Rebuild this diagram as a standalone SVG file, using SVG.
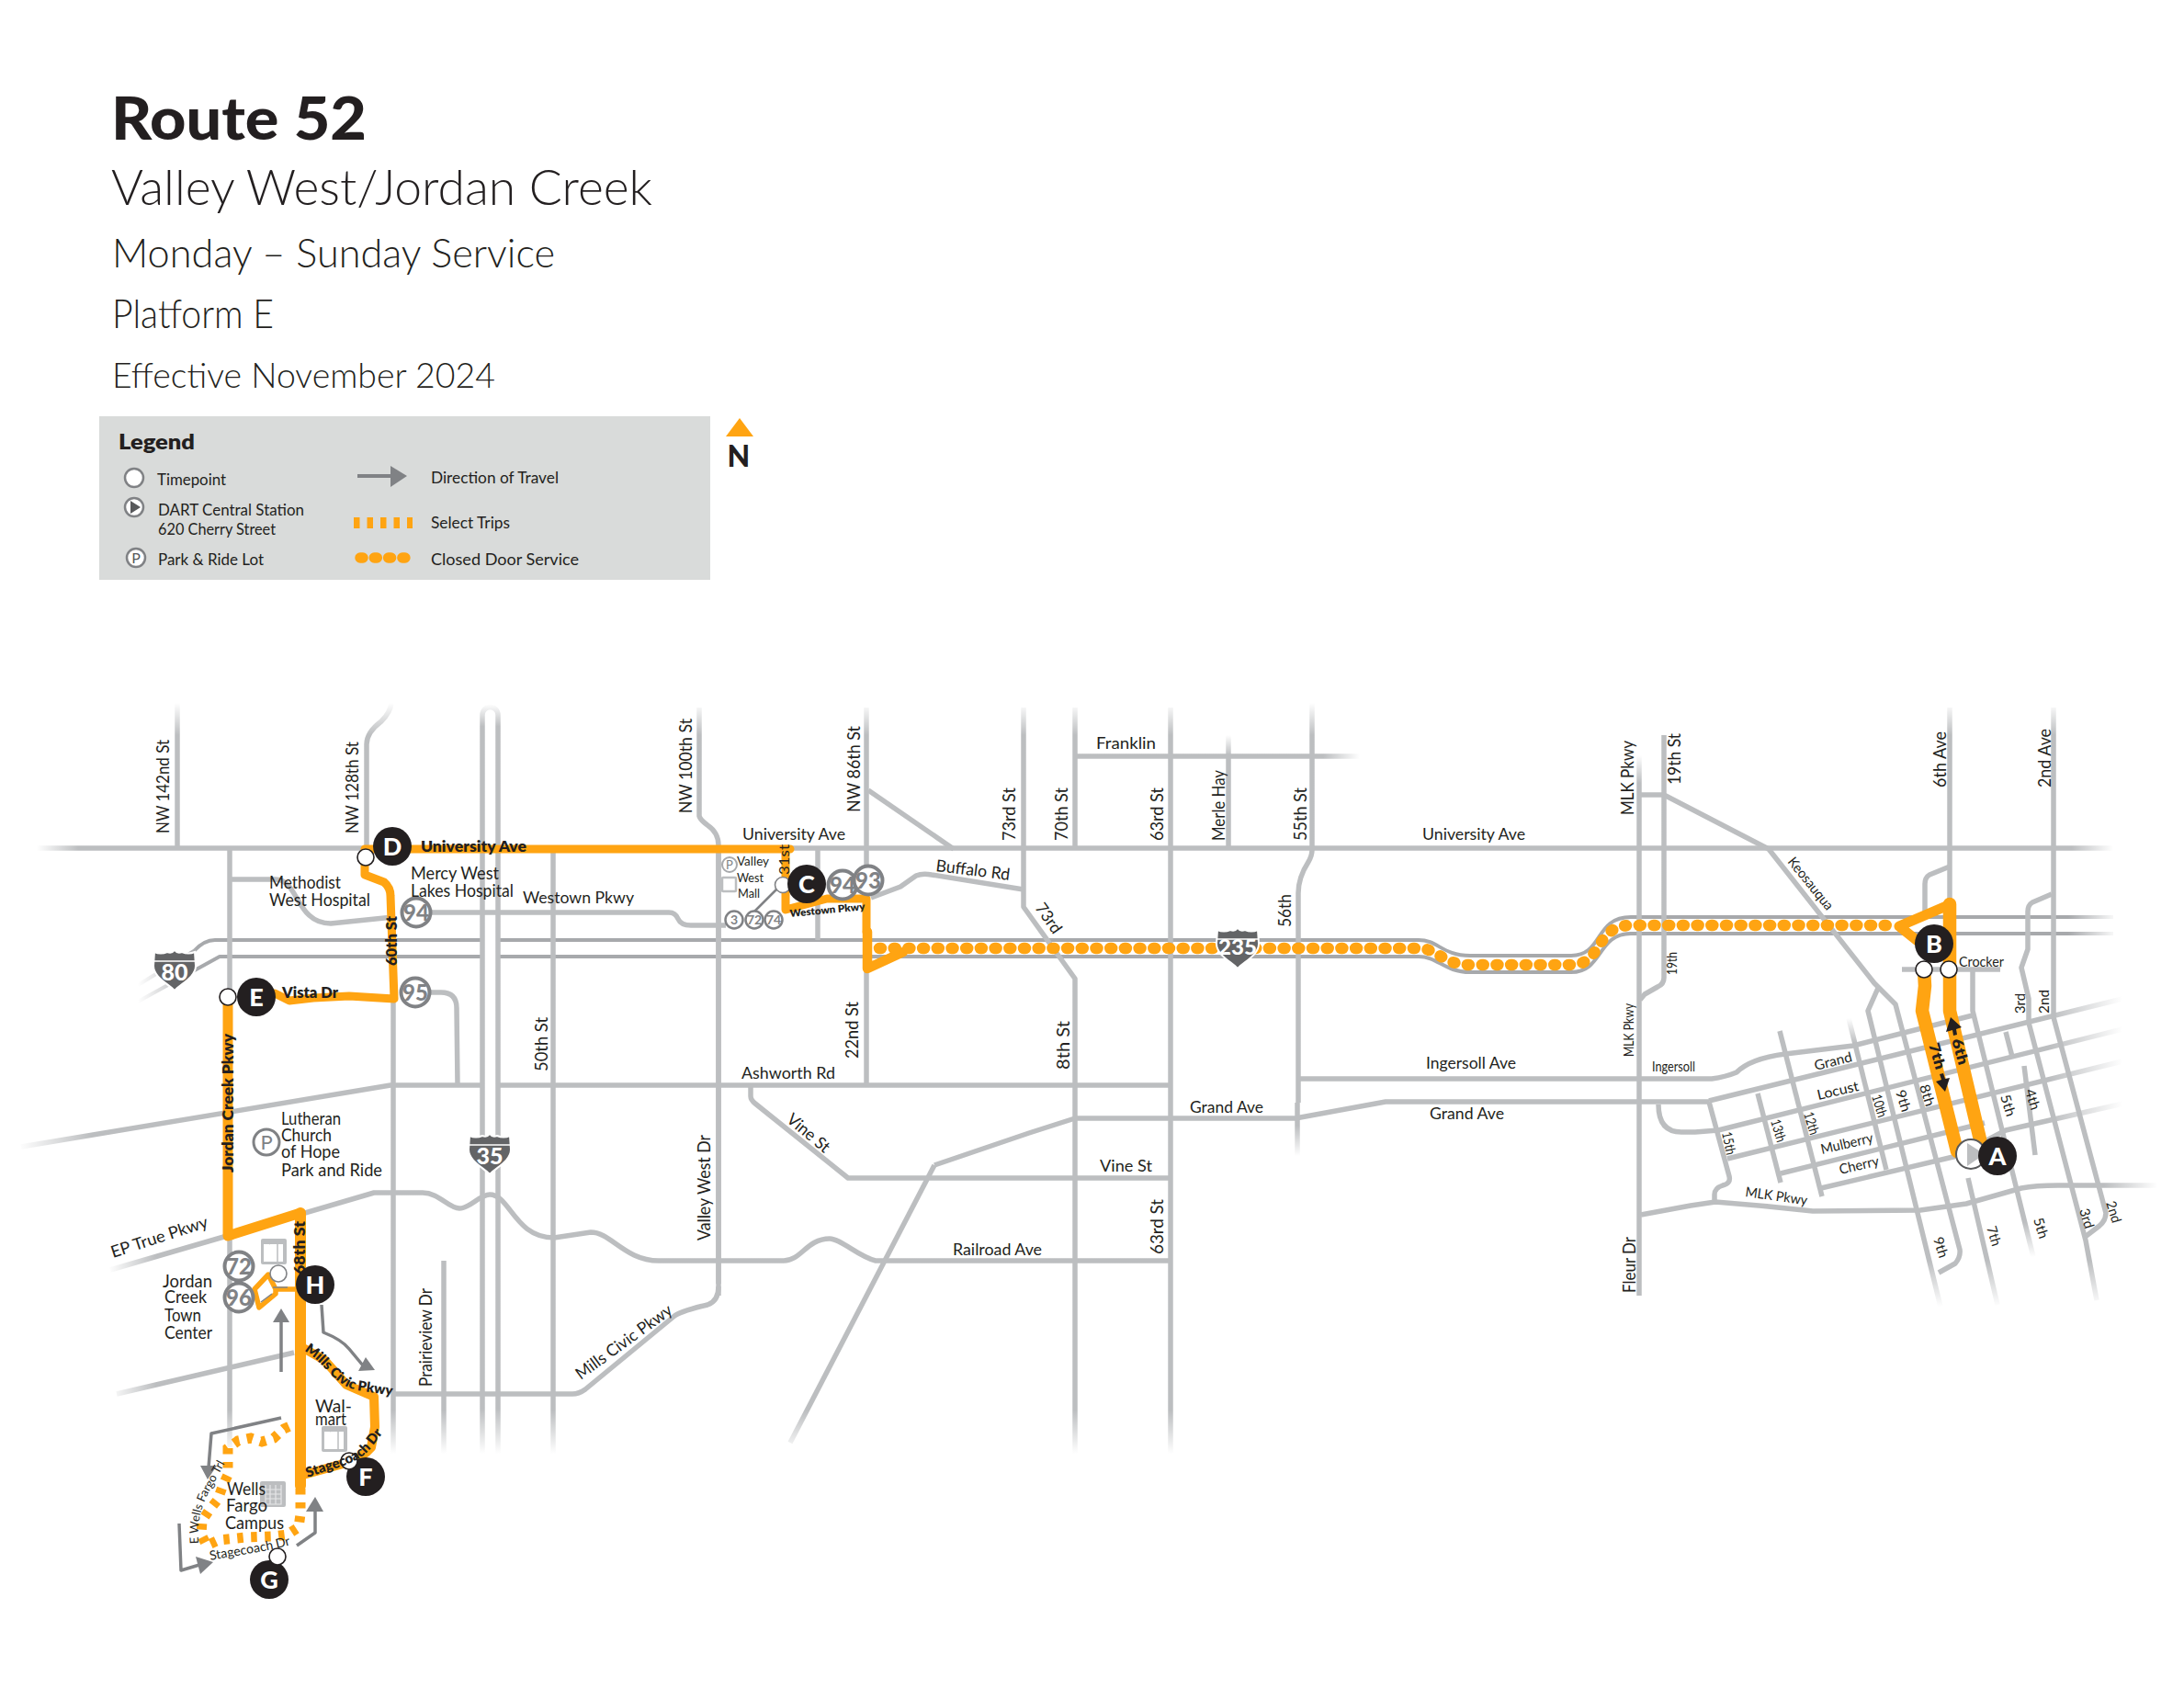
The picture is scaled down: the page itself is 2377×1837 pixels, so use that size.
<svg xmlns="http://www.w3.org/2000/svg" xmlns:xlink="http://www.w3.org/1999/xlink" width="2377" height="1837" viewBox="0 0 2377 1837">
<style>
text{font-family:"Lato","Noto Sans","Liberation Sans",sans-serif;fill:#231f20}
.t{font-size:20px}.s{font-size:15px}.m{font-size:18px}.b{font-size:16px;font-weight:800}.bs{font-size:14px;font-weight:800}
.rd{fill:none;stroke:#bcbec0;stroke-width:5.5;stroke-linecap:butt;stroke-linejoin:round}
.th{fill:none;stroke-width:4;stroke-linejoin:round}
.rt{fill:none;stroke:#ffa412;stroke-linejoin:round;stroke-linecap:round}
.dot{fill:none;stroke:#ffa412;stroke-width:12.5;stroke-linecap:round;stroke-dasharray:2 13.7}
.sel{fill:none;stroke:#ffa412;stroke-width:11;stroke-dasharray:6.5 8.5}
.arw{fill:none;stroke:#808285;stroke-width:3.5;stroke-linejoin:round}
.ah{fill:#808285}
.stop{fill:#231f20}.let{fill:#fff;font-size:27px;font-weight:900;text-anchor:middle}
.tp{fill:#fff;stroke:#231f20;stroke-width:1.6}
.sh{fill:#fff;stroke:#808285;stroke-width:4}
.shn{fill:#808285;font-size:24px;font-weight:900;text-anchor:middle}
.shs{fill:#fff;stroke:#808285;stroke-width:2.5}
.shsn{fill:#808285;font-size:14px;font-weight:700;text-anchor:middle}
.inum{fill:#fff;font-weight:900;text-anchor:middle}
</style>
<defs>
<linearGradient id="ux" gradientUnits="userSpaceOnUse" x1="40" x2="2300" y1="0" y2="0"><stop offset="0" stop-color="#bcbec0" stop-opacity="0"/><stop offset=".02" stop-color="#bcbec0"/><stop offset=".98" stop-color="#bcbec0"/><stop offset="1" stop-color="#bcbec0" stop-opacity="0"/></linearGradient>
<linearGradient id="ix" gradientUnits="userSpaceOnUse" x1="150" x2="2305" y1="0" y2="0"><stop offset="0" stop-color="#a7a9ac" stop-opacity="0"/><stop offset=".03" stop-color="#a7a9ac"/><stop offset=".975" stop-color="#a7a9ac"/><stop offset="1" stop-color="#a7a9ac" stop-opacity="0"/></linearGradient>
<linearGradient id="rx" gradientUnits="userSpaceOnUse" x1="2230" x2="2310" y1="0" y2="0"><stop offset="0" stop-color="#bcbec0"/><stop offset="1" stop-color="#bcbec0" stop-opacity="0"/></linearGradient>
<linearGradient id="mlkx" gradientUnits="userSpaceOnUse" x1="2290" x2="2348" y1="0" y2="0"><stop offset="0" stop-color="#bcbec0"/><stop offset="1" stop-color="#bcbec0" stop-opacity="0"/></linearGradient>
<linearGradient id="frx" gradientUnits="userSpaceOnUse" x1="1440" x2="1480" y1="0" y2="0"><stop offset="0" stop-color="#bcbec0"/><stop offset="1" stop-color="#bcbec0" stop-opacity="0"/></linearGradient>
<linearGradient id="lx" gradientUnits="userSpaceOnUse" x1="20" x2="100" y1="0" y2="0"><stop offset="0" stop-color="#bcbec0" stop-opacity="0"/><stop offset="1" stop-color="#bcbec0"/></linearGradient>
<linearGradient id="lx2" gradientUnits="userSpaceOnUse" x1="118" x2="170" y1="0" y2="0"><stop offset="0" stop-color="#bcbec0" stop-opacity="0"/><stop offset="1" stop-color="#bcbec0"/></linearGradient>
<linearGradient id="fr" gradientUnits="userSpaceOnUse" x1="0" x2="0" y1="822" y2="800"><stop offset="0" stop-color="#bcbec0"/><stop offset="1" stop-color="#bcbec0" stop-opacity="0"/></linearGradient>
<linearGradient id="ty" gradientUnits="userSpaceOnUse" x1="0" x2="0" y1="800" y2="765"><stop offset="0" stop-color="#bcbec0"/><stop offset="1" stop-color="#bcbec0" stop-opacity="0"/></linearGradient>
<linearGradient id="my" gradientUnits="userSpaceOnUse" x1="0" x2="0" y1="852" y2="822"><stop offset="0" stop-color="#bcbec0"/><stop offset="1" stop-color="#bcbec0" stop-opacity="0"/></linearGradient>
<linearGradient id="by" gradientUnits="userSpaceOnUse" x1="0" x2="0" y1="1535" y2="1582"><stop offset="0" stop-color="#bcbec0"/><stop offset="1" stop-color="#bcbec0" stop-opacity="0"/></linearGradient>
<linearGradient id="i35" gradientUnits="userSpaceOnUse" x1="0" x2="0" y1="766" y2="1582"><stop offset="0" stop-color="#bcbec0" stop-opacity="0"/><stop offset=".03" stop-color="#bcbec0"/><stop offset=".94" stop-color="#bcbec0"/><stop offset="1" stop-color="#bcbec0" stop-opacity="0"/></linearGradient>
<linearGradient id="dy" gradientUnits="userSpaceOnUse" x1="0" x2="0" y1="1372" y2="1422"><stop offset="0" stop-color="#bcbec0"/><stop offset="1" stop-color="#bcbec0" stop-opacity="0"/></linearGradient>
<linearGradient id="d5" gradientUnits="userSpaceOnUse" x1="0" x2="0" y1="1330" y2="1368"><stop offset="0" stop-color="#bcbec0"/><stop offset="1" stop-color="#bcbec0" stop-opacity="0"/></linearGradient>
<linearGradient id="y55" gradientUnits="userSpaceOnUse" x1="0" x2="0" y1="1225" y2="1258"><stop offset="0" stop-color="#bcbec0"/><stop offset="1" stop-color="#bcbec0" stop-opacity="0"/></linearGradient>
<linearGradient id="t10" gradientUnits="userSpaceOnUse" x1="0" x2="0" y1="1135" y2="1108"><stop offset="0" stop-color="#bcbec0"/><stop offset="1" stop-color="#bcbec0" stop-opacity="0"/></linearGradient>
<g id="shield"><path d="M-22,1 Q-15,4 -8,1 Q-3,3 0,-1 Q3,3 8,1 Q15,4 22,1 L23,16 C23,28 8,35 0,43 C-8,35 -23,28 -23,16 Z" fill="#636466" stroke="#fff" stroke-width="2"/><path d="M-22,11 H22" stroke="#fff" stroke-width="1.3"/></g>
<g id="bag"><rect x="-14" y="-14" width="28" height="28" rx="2" fill="#bcbec0"/><rect x="-11" y="-8" width="21" height="19" fill="#fff"/><path d="M-5,-8 Q0,-14 5,-8 M4,-8 V11" fill="none" stroke="#bcbec0" stroke-width="1.5"/></g>
<path id="pMills" d="M331,1470 C355,1484 360,1505 388,1513 L430,1519"/>
<path id="pStage" d="M335,1608 C360,1598 385,1596 402,1578 L424,1550"/>
<path id="pEWells" d="M216,1680 C214,1650 222,1632 232,1616 L248,1586"/>
<path id="pStage2" d="M229,1698 C260,1692 295,1688 320,1680"/>
</defs>
<g id="title">
<text x="121" y="152" font-size="64" font-weight="900" textLength="278" lengthAdjust="spacingAndGlyphs">Route 52</text>
<text x="121" y="223" font-size="54" font-weight="300" textLength="589" lengthAdjust="spacingAndGlyphs">Valley West/Jordan Creek</text>
<text x="122" y="291" font-size="44" font-weight="300" textLength="482" lengthAdjust="spacingAndGlyphs">Monday – Sunday Service</text>
<text x="122" y="357" font-size="44" font-weight="300" textLength="176" lengthAdjust="spacingAndGlyphs">Platform E</text>
<text x="122" y="422" font-size="38" font-weight="300" textLength="417" lengthAdjust="spacingAndGlyphs">Effective November 2024</text>
</g>
<g id="legend">
<rect x="108" y="453" width="665" height="178" fill="#d9dbda"/>
<text x="129" y="489" font-size="23" font-weight="800" textLength="83" lengthAdjust="spacingAndGlyphs">Legend</text>
<circle cx="146" cy="520" r="10" fill="#fff" stroke="#808285" stroke-width="2.5"/>
<circle cx="146" cy="552" r="10" fill="#fff" stroke="#808285" stroke-width="2.5"/><path d="M142,545 L153,552 L142,559Z" fill="#58595b"/>
<circle cx="148" cy="607" r="10" fill="#fff" stroke="#808285" stroke-width="2.5"/><text x="148" y="613" font-size="16" text-anchor="middle" style="fill:#58595b">P</text>
<g font-size="17">
<text x="171" y="528" textLength="75" lengthAdjust="spacingAndGlyphs">Timepoint</text>
<text x="172" y="561" textLength="159" lengthAdjust="spacingAndGlyphs">DART Central Station</text>
<text x="172" y="582" textLength="128" lengthAdjust="spacingAndGlyphs">620 Cherry Street</text>
<text x="172" y="615" textLength="115" lengthAdjust="spacingAndGlyphs">Park &amp; Ride Lot</text>
<text x="469" y="526" textLength="139" lengthAdjust="spacingAndGlyphs">Direction of Travel</text>
<text x="469" y="575" textLength="86" lengthAdjust="spacingAndGlyphs">Select Trips</text>
<text x="469" y="615" textLength="161" lengthAdjust="spacingAndGlyphs">Closed Door Service</text>
</g>
<path d="M389,518 H426" stroke="#808285" stroke-width="4"/><path d="M425,507 L443,518 L425,530Z" fill="#808285"/>
<path d="M385,569 H449" stroke="#ffa412" stroke-width="12" stroke-dasharray="6.5 8" fill="none"/>
<path d="M392,607 H444" stroke="#ffa412" stroke-width="11.5" stroke-linecap="round" stroke-dasharray="3 12.3" fill="none"/>
</g>
<g id="north"><path d="M805,455 L820,475 H790Z" fill="#ffa412"/><text x="804" y="508" font-size="32" font-weight="900" text-anchor="middle">N</text></g>

<g id="roads">
<path class="th" stroke="url(#ix)" d="M150,1072 L211,1035 Q222,1023 234,1023 H1544 C1565,1023 1570,1040 1600,1040 H1710 C1745,1040 1735,998 1775,998 H2300"/>
<path class="th" stroke="url(#ix)" d="M150,1090 L239,1041 H1544 C1565,1041 1572,1058 1600,1058 H1710 C1745,1058 1738,1016 1775,1016 H2300"/>
<path class="rd" style="stroke:url(#lx)" d="M23,1248 L425,1181 H1273"/>
<rect x="525" y="775" width="17" height="800" fill="#fff"/>
<path class="rd" style="stroke:url(#i35)" d="M525,1582 V778 A8.5,8.5 0 0 1 542,778 V1582"/>
<path class="rd" style="stroke:url(#ux)" d="M40,923 H2300"/>
<path class="rd" d="M250,957 H300 C325,957 322,1005 360,1005 L428,998 M470,993 H728 Q735,993 738,1000 Q741,1007 752,1007 H790"/>
<path class="rd" d="M948,977 L980,965 L997,953 Q1004,950 1014,952 L1114,968"/>
<path class="rd" style="stroke:url(#lx2)" d="M120,1382 L247,1345 L407,1298 H460 C478,1298 488,1315 500,1315 C512,1315 522,1300 533,1300 C555,1300 560,1347 603,1347 L643,1341 C665,1341 680,1372 717,1372 H853 C872,1372 878,1348 903,1348 C915,1348 935,1368 953,1372 H1274"/>
<path class="rd" style="stroke:url(#lx2)" d="M127,1517 L320,1472"/>
<path class="rd" d="M428,1517 H623 Q630,1517 637,1512 L733,1433 Q740,1427 770,1420 Q782,1416 782,1400"/>
<path class="rd" d="M817,1182 V1193 Q817,1197 822,1201 L923,1282 H1274"/>
<path class="rd" d="M1170,1217 H1410 L1508,1199 H1860"/>
<path class="rd" d="M1170,1217 L1120,1233 L1017,1268"/>
<path class="rd" style="stroke:url(#by)" d="M1017,1268 L860,1570"/>
<path class="rd" d="M1412,1174 H1863 Q1878,1172 1890,1167 Q1905,1152 1943,1147 L2017,1138 L2147,1105"/>
<path class="rd" style="stroke:url(#frx)" d="M1170,823 H1480"/>
<path class="rd" style="stroke:url(#rx)" d="M1860,1198 L2310,1087"/>
<path class="rd" style="stroke:url(#rx)" d="M1805,1202 Q1805,1232 1830,1232 H1845 L1870,1230 L2310,1120"/>
<path class="rd" style="stroke:url(#rx)" d="M1880,1261 L2310,1155"/>
<path class="rd" d="M1938,1277 L2160,1222"/>
<path class="rd" style="stroke:url(#rx)" d="M1982,1293 L2130,1258 L2183,1230 L2315,1200"/>
<path class="rd" style="stroke:url(#mlkx)" d="M1786,1322 L1840,1312 L1867,1308 Q1920,1312 1973,1318 L2090,1317 L2140,1310 L2200,1293 Q2215,1290 2240,1290 H2348"/>
<path class="rd" d="M2070,1055 H2177"/>
<path class="rd" style="stroke:url(#ty)" d="M193,765 V923"/>
<path class="rd" d="M250,923 V1335"/>
<path class="rd" style="stroke:url(#by)" d="M250,1345 V1575"/>
<path class="rd" style="stroke:url(#ty)" d="M426,765 Q425,775 415,785 Q399,797 399,810 V923"/>
<path class="rd" style="stroke:url(#by)" d="M428,1000 V1582"/>
<path class="rd" d="M454,1080 H480 Q497,1080 497,1097 L498,1181"/>
<path class="rd" style="stroke:url(#by)" d="M602,923 V1582"/>
<path class="rd" style="stroke:url(#by)" d="M483,1372 V1582"/>
<path class="rd" style="stroke:url(#ty)" d="M761,770 V888 Q762,892 770,898 Q782,906 782,920 V1397"/>
<path class="rd" d="M782,923 V1410"/>
<path class="rd" d="M890,923 V1023"/>
<path class="rd" style="stroke:url(#ty)" d="M943,770 V977"/>
<path class="rd" d="M943,1050 V1181"/>
<path class="rd" d="M945,860 L1038,924"/>
<path class="rd" style="stroke:url(#ty)" d="M1114,770 V987 L1170,1065 V1217"/>
<path class="rd" style="stroke:url(#by)" d="M1170,1217 V1582"/>
<path class="rd" style="stroke:url(#ty)" d="M1170,770 V923"/>
<path class="rd" style="stroke:url(#ty)" d="M1274,770 V1217"/>
<path class="rd" style="stroke:url(#by)" d="M1274,1217 V1582"/>
<path class="rd" style="stroke:url(#fr)" d="M1337,800 V823"/><path class="rd" d="M1337,823 V923"/>
<path class="rd" style="stroke:url(#ty)" d="M1428,765 V925 Q1428,931 1424,938 Q1413,955 1413,972 V1200"/>
<path class="rd" style="stroke:url(#y55)" d="M1412,1200 V1258"/>
<path class="rd" style="stroke:url(#my)" d="M1784,822 V1410"/>
<path class="rd" style="stroke:url(#ty)" d="M1811,800 V1064 Q1811,1071 1804,1074 L1790,1082 L1785,1088"/>
<path class="rd" d="M1784,865 H1811 L1925,924 L2040,1070 L2063,1093 L2133,1360 Q2134,1368 2128,1375 L2110,1385"/>
<path class="rd" style="stroke:url(#ty)" d="M2122,770 V1000"/>
<path class="rd" d="M2122,943 L2100,952 Q2095,955 2095,962 V1000"/>
<path class="rd" style="stroke:url(#ty)" d="M2235,770 V1107 L2292,1320 Q2292,1328 2285,1334 L2268,1347"/>
<path class="rd" d="M2233,973 L2212,982 Q2207,985 2207,992 V1033 L2200,1053 L2208,1087 V1113"/>
<path class="rd" style="stroke:url(#dy)" d="M2208,1113 L2270,1350 L2282,1415"/>
<path class="rd" style="stroke:url(#d5)" d="M2147,1057 V1100 L2213,1368"/>
<path class="rd" style="stroke:url(#dy)" d="M2142,1282 L2174,1420"/>
<path class="rd" style="stroke:url(#dy)" d="M2045,1073 L2033,1100 L2112,1422"/>
<path class="rd" style="stroke:url(#t10)" d="M2012,1108 L2053,1273"/>
<path class="rd" d="M1937,1122 L1983,1302"/>
<path class="rd" d="M1913,1190 L1938,1287"/>
<path class="rd" d="M1860,1199 L1882,1280 Q1884,1288 1875,1290 Q1866,1293 1866,1300 V1308"/>
<path class="rd" d="M2183,1123 L2190,1150"/>
<path class="rd" d="M2203,1160 L2215,1257"/>
</g>

<g id="shields">
<use xlink:href="#shield" href="#shield" x="190" y="1035"/><text class="inum" x="190" y="1067" font-size="25">80</text>
<use xlink:href="#shield" href="#shield" x="533" y="1235"/><text class="inum" x="533" y="1267" font-size="25">35</text>
</g>

<g id="route">
<path class="rt" stroke-width="9" d="M860,924 H397 V952 L418,960 Q425,966 425,975 L429,1087 L380,1084 L341,1086 L315,1089 L299,1081"/>
<path class="rt" stroke-width="9" d="M855,924 V990 L900,978 H943 V1014"/>
<path class="rt" stroke-width="10.5" d="M944,1014 V1054 L983,1036"/>
<path class="rt" stroke-width="11" d="M248,1085 V1345 L327,1320"/>
<path class="rt" stroke-width="12" d="M327,1320 V1617"/>
<path class="rt" stroke-width="10" d="M330,1605 L377,1592 Q395,1586 404,1575 L408,1553 L407,1520 L377,1507 L353,1480 L330,1467"/>
<path class="rt" stroke-width="5.5" d="M327,1403 H300 M300,1403 L292,1387 L277,1403 L282,1423 L300,1408 V1403"/>
<path fill="none" stroke="#808285" stroke-width="1.5" d="M297,1401 H313 M284,1417 L296,1408"/>
<path class="sel" d="M327,1620 L327,1648 L325,1662 L313,1670 L297,1672 L268,1673 L238,1676 L225,1682 L219,1670 L220,1655 L228,1643 L237,1632 L242,1618 L248,1605 L248,1576 L259,1568 L273,1565 L285,1569 L298,1565 L309,1555 L320,1550"/>
<path class="dot" d="M957,1032 H1544 C1565,1032 1570,1050 1600,1050 H1710 C1745,1050 1735,1007 1775,1007 H2058"/>
<path class="rt" stroke-width="11" d="M2123,984 L2067,1008 L2092,1028"/>
<path class="rt" stroke-width="14.5" d="M2122,984 V1100 L2155,1240"/>
<path class="rt" stroke-width="14.5" d="M2130,1253 L2092,1100 L2095,1073 L2094,1055"/>
</g>

<use xlink:href="#shield" href="#shield" x="1347" y="1011"/><text class="inum" x="1347" y="1039" font-size="22" textLength="42" lengthAdjust="spacingAndGlyphs">235</text>

<g id="arrows">
<path class="arw" d="M306,1493 V1437"/><path class="ah" d="M306,1424 L315,1439 H297Z"/>
<path class="arw" d="M350,1420 L352,1450 Q372,1458 380,1468 L395,1486"/><path class="ah" d="M408,1491 L390,1492 L398,1477Z"/>
<path class="arw" d="M306,1543 L230,1560 L227,1597"/><path class="ah" d="M218,1595 H236 L226,1610Z"/>
<path class="arw" d="M195,1658 L197,1709 L217,1703"/><path class="ah" d="M213,1694 L232,1700 L218,1713Z"/>
<path class="arw" d="M323,1682 L343,1668 V1643"/><path class="ah" d="M333,1645 H352 L343,1629Z"/>
<path fill="#231f20" d="M2123,1107 L2135,1118 L2129,1120 L2130,1126 L2126,1127 L2125,1121 L2118,1123Z"/>
<path fill="#231f20" d="M2117,1188 L2107,1177 L2113,1175 L2111,1169 L2115,1168 L2117,1174 L2122,1173Z"/>
</g>

<g id="places">
<use xlink:href="#bag" href="#bag" x="298" y="1362"/>
<use xlink:href="#bag" href="#bag" x="364" y="1566"/>
<g transform="translate(297,1626)"><rect x="-14" y="-14" width="28" height="28" rx="2" fill="#bcbec0"/><path d="M-8,-10 V11 H9 V-10 M-8,-5 H9 M-8,0 H9 M-8,5 H9 M-3,-10 V11 M3,-10 V11" fill="none" stroke="#e6e7e8" stroke-width="1.2"/></g>
<g transform="translate(794,963)"><rect x="-8" y="-8" width="15" height="15" fill="#fff" stroke="#bcbec0" stroke-width="2.5" rx="1"/></g>
<circle cx="290" cy="1243" r="14" fill="#fff" stroke="#808285" stroke-width="3"/><text x="290" y="1251" font-size="22" text-anchor="middle" style="fill:#808285">P</text>
<circle cx="794" cy="941" r="8" fill="#fff" stroke="#a7a9ac" stroke-width="2"/><text x="794" y="946" font-size="13" text-anchor="middle" style="fill:#808285">P</text>
<circle class="tp" cx="303" cy="1386" r="9" style="stroke:#808285"/>
<path d="M845,968 L820,993" stroke="#808285" stroke-width="2.5"/>
</g>

<g id="route-numbers">
<circle class="sh" cx="453" cy="993" r="15.5"/><text class="shn" x="453" y="1002">94</text>
<circle class="sh" cx="452" cy="1080" r="15.5"/><text class="shn" x="452" y="1089">95</text>
<circle class="sh" cx="260" cy="1378" r="15.5"/><text class="shn" x="260" y="1387">72</text>
<circle class="sh" cx="260" cy="1412" r="15.5"/><text class="shn" x="260" y="1421">96</text>
<circle class="sh" cx="917" cy="963" r="15.5"/><text class="shn" x="917" y="972">94</text>
<circle class="sh" cx="945" cy="958" r="15.5"/><text class="shn" x="945" y="967">93</text>
<circle class="shs" cx="799" cy="1001" r="9.5"/><text class="shsn" x="799" y="1006">3</text>
<circle class="shs" cx="821" cy="1001" r="9.5"/><text class="shsn" x="821" y="1006">72</text>
<circle class="shs" cx="842" cy="1001" r="9.5"/><text class="shsn" x="842" y="1006">74</text>
</g>

<g id="stop-A"><circle cx="2145" cy="1256" r="16" fill="#fff" stroke="#58595b" stroke-width="2"/><path d="M2141,1244 L2160,1256 L2141,1269Z" fill="#bcbec0"/><circle class="stop" cx="2174" cy="1258" r="21"/><text class="let" x="2174" y="1268">A</text></g>
<g id="stop-B"><circle class="stop" cx="2105" cy="1027" r="21"/><text class="let" x="2105" y="1037">B</text><circle class="tp" cx="2094" cy="1055" r="9"/><circle class="tp" cx="2121" cy="1055" r="9"/></g>
<g id="stop-C"><circle class="tp" cx="852" cy="963" r="8.5" style="stroke:#808285"/><circle class="stop" cx="878" cy="962" r="21"/><text class="let" x="878" y="972">C</text></g>
<g id="stop-D"><circle class="stop" cx="427" cy="921" r="21"/><text class="let" x="427" y="931">D</text><circle class="tp" cx="398" cy="933" r="9"/></g>
<g id="stop-E"><circle class="stop" cx="279" cy="1085" r="21"/><text class="let" x="279" y="1095">E</text><circle class="tp" cx="248" cy="1085" r="9"/></g>
<g id="stop-F"><circle class="stop" cx="398" cy="1607" r="21"/><text class="let" x="398" y="1617">F</text><circle class="tp" cx="380" cy="1590" r="9"/></g>
<g id="stop-G"><circle class="stop" cx="293" cy="1719" r="21"/><text class="let" x="293" y="1729">G</text><circle class="tp" cx="302" cy="1694" r="9"/></g>

<g id="labels">
<text class="t" transform="translate(184,907) rotate(-90)" textLength="102" lengthAdjust="spacingAndGlyphs">NW 142nd St</text>
<text class="t" transform="translate(390,907) rotate(-90)" textLength="100" lengthAdjust="spacingAndGlyphs">NW 128th St</text>
<text class="t" transform="translate(753,885) rotate(-90)" textLength="103" lengthAdjust="spacingAndGlyphs">NW 100th St</text>
<text class="t" transform="translate(936,884) rotate(-90)" textLength="94" lengthAdjust="spacingAndGlyphs">NW 86th St</text>
<text class="t" transform="translate(1105,915) rotate(-90)" textLength="58" lengthAdjust="spacingAndGlyphs">73rd St</text>
<text class="t" transform="translate(1162,915) rotate(-90)" textLength="58" lengthAdjust="spacingAndGlyphs">70th St</text>
<text class="t" transform="translate(1266,915) rotate(-90)" textLength="58" lengthAdjust="spacingAndGlyphs">63rd St</text>
<text class="t" transform="translate(1333,915) rotate(-90)" textLength="77" lengthAdjust="spacingAndGlyphs">Merle Hay</text>
<text class="t" transform="translate(1422,915) rotate(-90)" textLength="58" lengthAdjust="spacingAndGlyphs">55th St</text>
<text class="t" transform="translate(1405,1009) rotate(-90)" textLength="36" lengthAdjust="spacingAndGlyphs">56th</text>
<text class="t" transform="translate(1778,887) rotate(-90)" textLength="81" lengthAdjust="spacingAndGlyphs">MLK Pkwy</text>
<text class="t" transform="translate(1829,854) rotate(-90)" textLength="56" lengthAdjust="spacingAndGlyphs">19th St</text>
<text class="t" transform="translate(2118,857) rotate(-90)" textLength="61" lengthAdjust="spacingAndGlyphs">6th Ave</text>
<text class="t" transform="translate(2232,857) rotate(-90)" textLength="64" lengthAdjust="spacingAndGlyphs">2nd Ave</text>
<text class="t" transform="translate(596,1166) rotate(-90)" textLength="59" lengthAdjust="spacingAndGlyphs">50th St</text>
<text class="t" transform="translate(934,1152) rotate(-90)" textLength="62" lengthAdjust="spacingAndGlyphs">22nd St</text>
<text class="t" transform="translate(1164,1164) rotate(-90)" textLength="53" lengthAdjust="spacingAndGlyphs">8th St</text>
<text class="t" transform="translate(773,1350) rotate(-90)" textLength="115" lengthAdjust="spacingAndGlyphs">Valley West Dr</text>
<text class="t" transform="translate(1266,1365) rotate(-90)" textLength="60" lengthAdjust="spacingAndGlyphs">63rd St</text>
<text class="t" transform="translate(470,1509) rotate(-90)" textLength="107" lengthAdjust="spacingAndGlyphs">Prairieview Dr</text>
<text class="t" transform="translate(1780,1407) rotate(-90)" textLength="61" lengthAdjust="spacingAndGlyphs">Fleur Dr</text>
<text class="m" x="808" y="914" textLength="112" lengthAdjust="spacingAndGlyphs">University Ave</text>
<text class="m" x="1548" y="914" textLength="112" lengthAdjust="spacingAndGlyphs">University Ave</text>
<text class="m" x="569" y="983" textLength="121" lengthAdjust="spacingAndGlyphs">Westown Pkwy</text>
<text class="m" x="1193" y="815" textLength="65" lengthAdjust="spacingAndGlyphs">Franklin</text>
<text class="m" x="1552" y="1163" textLength="98" lengthAdjust="spacingAndGlyphs">Ingersoll Ave</text>
<text class="m" x="1295" y="1211" textLength="80" lengthAdjust="spacingAndGlyphs">Grand Ave</text>
<text class="m" x="1556" y="1218" textLength="81" lengthAdjust="spacingAndGlyphs">Grand Ave</text>
<text class="m" x="807" y="1174" textLength="102" lengthAdjust="spacingAndGlyphs">Ashworth Rd</text>
<text class="m" x="1197" y="1275" textLength="57" lengthAdjust="spacingAndGlyphs">Vine St</text>
<text class="m" x="1037" y="1366" textLength="97" lengthAdjust="spacingAndGlyphs">Railroad Ave</text>
<text class="m" transform="translate(1018,948) rotate(7)" textLength="81" lengthAdjust="spacingAndGlyphs">Buffalo Rd</text>
<text class="m" transform="translate(1126,988) rotate(55)" textLength="36" lengthAdjust="spacingAndGlyphs">73rd</text>
<text class="m" transform="translate(855,1220) rotate(40)" textLength="55" lengthAdjust="spacingAndGlyphs">Vine St</text>
<text class="m" transform="translate(632,1502) rotate(-36)" textLength="125" lengthAdjust="spacingAndGlyphs">Mills Civic Pkwy</text>
<text class="m" transform="translate(123,1369) rotate(-18)" textLength="110" lengthAdjust="spacingAndGlyphs">EP True Pkwy</text>
<g font-size="19">
<text x="293" y="967" textLength="78" lengthAdjust="spacingAndGlyphs">Methodist</text>
<text x="293" y="986" textLength="110" lengthAdjust="spacingAndGlyphs">West Hospital</text>
<text x="447" y="957" textLength="96" lengthAdjust="spacingAndGlyphs">Mercy West</text>
<text x="447" y="976" textLength="112" lengthAdjust="spacingAndGlyphs">Lakes Hospital</text>
<text x="306" y="1224" textLength="65" lengthAdjust="spacingAndGlyphs">Lutheran</text>
<text x="306" y="1242" textLength="55" lengthAdjust="spacingAndGlyphs">Church</text>
<text x="306" y="1260" textLength="64" lengthAdjust="spacingAndGlyphs">of Hope</text>
<text x="306" y="1280" textLength="110" lengthAdjust="spacingAndGlyphs">Park and Ride</text>
<text x="177" y="1401" textLength="54" lengthAdjust="spacingAndGlyphs">Jordan</text>
<text x="179" y="1418" textLength="46" lengthAdjust="spacingAndGlyphs">Creek</text>
<text x="179" y="1438" textLength="40" lengthAdjust="spacingAndGlyphs">Town</text>
<text x="179" y="1457" textLength="52" lengthAdjust="spacingAndGlyphs">Center</text>
<text x="343" y="1537" textLength="40" lengthAdjust="spacingAndGlyphs">Wal-</text>
<text x="343" y="1551" textLength="34" lengthAdjust="spacingAndGlyphs">mart</text>
<text x="247" y="1627" textLength="42" lengthAdjust="spacingAndGlyphs">Wells</text>
<text x="246" y="1645" textLength="45" lengthAdjust="spacingAndGlyphs">Fargo</text>
<text x="245" y="1664" textLength="64" lengthAdjust="spacingAndGlyphs">Campus</text>
</g>
<g font-size="14">
<text x="802" y="942" textLength="35" lengthAdjust="spacingAndGlyphs">Valley</text>
<text x="802" y="960" textLength="29" lengthAdjust="spacingAndGlyphs">West</text>
<text x="803" y="977" textLength="24" lengthAdjust="spacingAndGlyphs">Mall</text>
</g>
<text class="s" x="2132" y="1052" textLength="49" lengthAdjust="spacingAndGlyphs">Crocker</text>
<text class="s" x="1798" y="1166" textLength="47" lengthAdjust="spacingAndGlyphs">Ingersoll</text>
<text class="s" transform="translate(1825,1061) rotate(-90)" textLength="25" lengthAdjust="spacingAndGlyphs">19th</text>
<text class="s" transform="translate(1778,1150) rotate(-90)" textLength="58" lengthAdjust="spacingAndGlyphs">MLK Pkwy</text>
<text class="s" transform="translate(2204,1103) rotate(-90)" textLength="22" lengthAdjust="spacingAndGlyphs">3rd</text>
<text class="s" transform="translate(2230,1103) rotate(-90)" textLength="26" lengthAdjust="spacingAndGlyphs">2nd</text>
<text class="s" transform="translate(1945,938) rotate(51)" textLength="69" lengthAdjust="spacingAndGlyphs">Keosauqua</text>
<text class="s" transform="translate(1976,1165) rotate(-14)" textLength="42" lengthAdjust="spacingAndGlyphs">Grand</text>
<text class="s" transform="translate(1979,1197) rotate(-13)" textLength="46" lengthAdjust="spacingAndGlyphs">Locust</text>
<text class="s" transform="translate(1983,1256) rotate(-13)" textLength="58" lengthAdjust="spacingAndGlyphs">Mulberry</text>
<text class="s" transform="translate(2003,1278) rotate(-13)" textLength="44" lengthAdjust="spacingAndGlyphs">Cherry</text>
<text class="s" transform="translate(1899,1302) rotate(8)" textLength="68" lengthAdjust="spacingAndGlyphs">MLK Pkwy</text>
<text class="s" transform="translate(2089,1182) rotate(73)" textLength="24" lengthAdjust="spacingAndGlyphs">8th</text>
<text class="s" transform="translate(2063,1188) rotate(73)" textLength="24" lengthAdjust="spacingAndGlyphs">9th</text>
<text class="s" transform="translate(2037,1193) rotate(73)" textLength="25" lengthAdjust="spacingAndGlyphs">10th</text>
<text class="s" transform="translate(1963,1212) rotate(73)" textLength="25" lengthAdjust="spacingAndGlyphs">12th</text>
<text class="s" transform="translate(1927,1220) rotate(73)" textLength="25" lengthAdjust="spacingAndGlyphs">13th</text>
<text class="s" transform="translate(1874,1233) rotate(78)" textLength="25" lengthAdjust="spacingAndGlyphs">15th</text>
<text class="s" transform="translate(2177,1193) rotate(73)" textLength="24" lengthAdjust="spacingAndGlyphs">5th</text>
<text class="s" transform="translate(2204,1187) rotate(73)" textLength="23" lengthAdjust="spacingAndGlyphs">4th</text>
<text class="s" transform="translate(2104,1348) rotate(73)" textLength="23" lengthAdjust="spacingAndGlyphs">9th</text>
<text class="s" transform="translate(2162,1336) rotate(73)" textLength="22" lengthAdjust="spacingAndGlyphs">7th</text>
<text class="s" transform="translate(2213,1327) rotate(73)" textLength="23" lengthAdjust="spacingAndGlyphs">5th</text>
<text class="s" transform="translate(2263,1317) rotate(73)" textLength="22" lengthAdjust="spacingAndGlyphs">3rd</text>
<text class="s" transform="translate(2292,1309) rotate(73)" textLength="24" lengthAdjust="spacingAndGlyphs">2nd</text>
<text class="b" x="458" y="927" textLength="115" lengthAdjust="spacingAndGlyphs">University Ave</text>
<text class="b" x="307" y="1086" textLength="61" lengthAdjust="spacingAndGlyphs">Vista Dr</text>
<text class="b" transform="translate(432,1051) rotate(-90)" textLength="54" lengthAdjust="spacingAndGlyphs">60th St</text>
<text class="b" transform="translate(254,1276) rotate(-90)" textLength="151" lengthAdjust="spacingAndGlyphs">Jordan Creek Pkwy</text>
<text class="b" transform="translate(332,1387) rotate(-90)" textLength="58" lengthAdjust="spacingAndGlyphs">68th St</text>
<text transform="translate(859,952) rotate(-90)" font-size="16" textLength="33" lengthAdjust="spacingAndGlyphs">31st</text>
<text font-size="11" font-weight="800" transform="translate(860,998) rotate(-5.5)" textLength="82" lengthAdjust="spacingAndGlyphs">Westown Pkwy</text>
<text class="b" transform="translate(2099,1137) rotate(74)" textLength="29" lengthAdjust="spacingAndGlyphs">7th</text>
<text class="b" transform="translate(2124,1132) rotate(74)" textLength="29" lengthAdjust="spacingAndGlyphs">6th</text>
<text font-size="15" font-weight="800"><textPath href="#pMills" xlink:href="#pMills">Mills Civic Pkwy</textPath></text>
<text font-size="15" font-weight="800"><textPath href="#pStage" xlink:href="#pStage">Stagecoach Dr</textPath></text>
<text font-size="13"><textPath href="#pEWells" xlink:href="#pEWells">E Wells Fargo Trl</textPath></text>
<text font-size="14"><textPath href="#pStage2" xlink:href="#pStage2">Stagecoach Dr</textPath></text>
</g>
<g id="stop-H"><circle class="stop" cx="343" cy="1398" r="21"/><text class="let" x="343" y="1408">H</text></g>
</svg>
